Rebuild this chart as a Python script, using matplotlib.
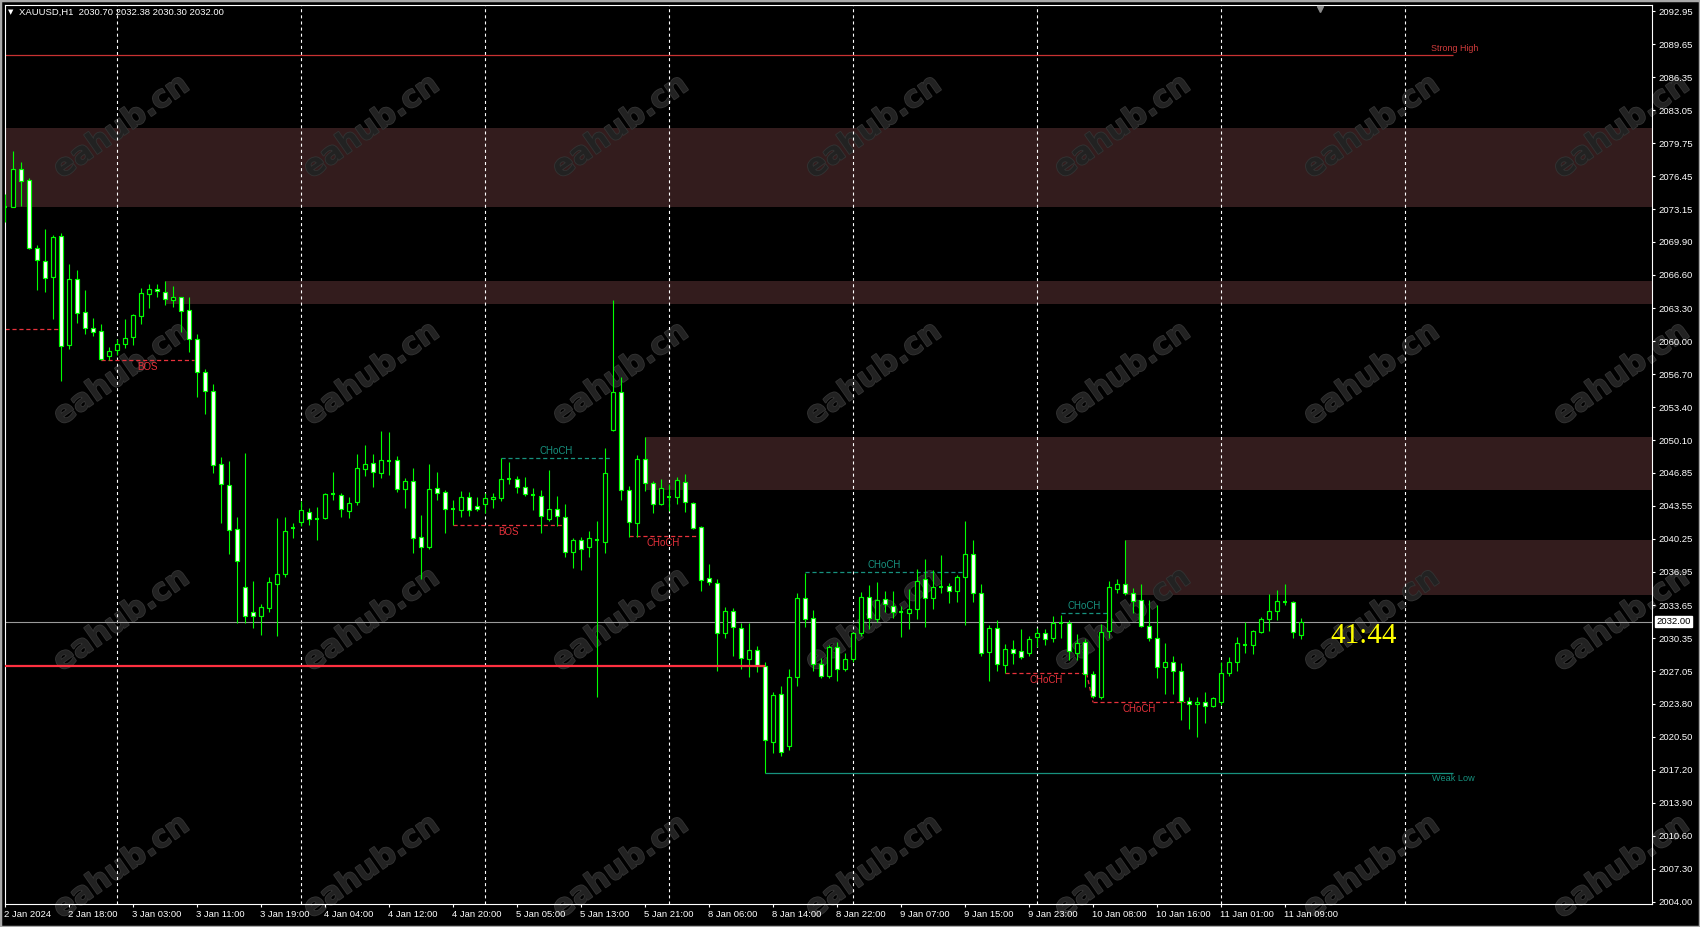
import matplotlib
matplotlib.use("Agg")
import matplotlib.pyplot as plt
from matplotlib.patches import Rectangle
import matplotlib.transforms as mtransforms
import matplotlib.patheffects as pe
import numpy as np

plt.rcParams['font.family'] = ['Liberation Sans', 'DejaVu Sans']
plt.rcParams['lines.scale_dashes'] = False

# ---------------- data ----------------
title_text = "XAUUSD,H1  2030.70 2032.38 2030.30 2032.00"

opens = [2073.4, 2073.4, 2077.15, 2076.1, 2069.26, 2067.96, 2066.36, 2070.46, 2059.57, 2066.16,
         2062.87, 2061.27, 2060.97, 2058.54, 2059.11, 2059.74, 2060.37, 2062.54, 2064.73, 2065.17,
         2064.87, 2064.13, 2064.37, 2063.07, 2060.17, 2056.88, 2054.98, 2047.69, 2045.59, 2041.2,
         2035.41, 2032.92, 2032.58, 2033.38, 2035.71, 2036.71, 2041.37, 2041.97, 2042.97, 2042.27,
         2042.3, 2044.73, 2044.6, 2043.07, 2043.9, 2047.26, 2047.82, 2046.86, 2048.06, 2048.09,
         2045.2, 2046.06, 2040.41, 2039.47, 2045.3, 2044.9, 2043.2, 2043.17, 2044.4, 2043.5,
         2043.77, 2044.2, 2044.37, 2046.26, 2046.26, 2045.4, 2044.67, 2044.5, 2042.27, 2043.2,
         2042.4, 2038.91, 2040.11, 2039.41, 2040.14, 2039.97, 2051.16, 2054.88, 2045.1, 2041.87,
         2048.2, 2045.8, 2043.7, 2044.4, 2044.4, 2045.9, 2043.8, 2041.41, 2036.32, 2035.82,
         2030.82, 2033.02, 2031.32, 2028.23, 2029.13, 2027.6, 2020.0, 2024.73, 2019.6, 2026.43,
         2034.31, 2032.32, 2027.73, 2026.59, 2029.42, 2027.29, 2028.23, 2030.82, 2034.41, 2032.28,
         2034.21, 2033.52, 2032.92, 2032.82, 2033.22, 2036.21, 2034.31, 2035.48, 2035.51, 2035.0,
         2036.48, 2038.75, 2034.82, 2028.93, 2031.33, 2027.67, 2029.23, 2029.03, 2028.83, 2030.5,
         2030.83, 2030.33, 2031.86, 2031.83, 2028.9, 2029.99, 2026.73, 2024.5, 2031.09, 2035.29,
         2035.72, 2034.82, 2034.12, 2031.59, 2030.33, 2027.43, 2027.99, 2027.1, 2024.1, 2023.74,
         2024.0, 2023.6, 2024.0, 2026.9, 2027.93, 2029.66, 2029.7, 2030.99, 2032.26, 2033.02,
         2033.99, 2033.92, 2030.70]
highs = [2074.7, 2079.0, 2077.9, 2076.25, 2069.6, 2071.2, 2070.56, 2070.76, 2067.69, 2067.1,
         2065.1, 2062.3, 2061.7, 2059.37, 2060.2, 2062.17, 2062.7, 2065.27, 2065.7, 2065.7,
         2065.97, 2065.5, 2064.43, 2064.37, 2060.67, 2057.21, 2055.71, 2048.42, 2048.02, 2042.43,
         2048.82, 2036.04, 2033.75, 2036.44, 2042.33, 2042.43, 2041.83, 2044.03, 2043.3, 2043.43,
         2044.8, 2046.93, 2044.8, 2044.4, 2048.72, 2049.62, 2048.72, 2050.98, 2050.89, 2048.52,
         2046.3, 2047.29, 2042.64, 2047.73, 2046.93, 2045.13, 2044.13, 2045.03, 2044.9, 2044.47,
         2044.8, 2044.8, 2048.29, 2047.89, 2046.53, 2046.4, 2045.3, 2045.1, 2047.13, 2044.53,
         2043.73, 2040.34, 2040.47, 2041.04, 2042.04, 2049.33, 2064.1, 2056.38, 2045.53, 2048.63,
         2050.42, 2046.03, 2046.23, 2045.73, 2046.43, 2046.73, 2043.97, 2041.54, 2037.75, 2036.22,
         2033.42, 2033.32, 2031.82, 2031.82, 2029.56, 2027.93, 2024.97, 2025.55, 2027.26, 2034.88,
         2036.88, 2033.15, 2028.32, 2029.66, 2029.92, 2028.82, 2031.0, 2034.91, 2035.61, 2035.91,
         2035.01, 2035.01, 2033.55, 2035.25, 2037.24, 2038.21, 2037.14, 2038.64, 2035.81, 2036.65,
         2042.04, 2040.14, 2035.75, 2031.66, 2032.16, 2029.76, 2030.16, 2031.26, 2030.56, 2031.33,
         2031.26, 2032.56, 2032.66, 2032.16, 2030.73, 2030.26, 2027.07, 2031.76, 2036.05, 2036.22,
         2040.14, 2035.32, 2035.75, 2034.15, 2033.65, 2029.83, 2028.56, 2027.83, 2024.5, 2024.5,
         2025.0, 2024.5, 2028.0, 2028.5, 2030.43, 2031.99, 2031.16, 2032.42, 2034.75, 2035.15,
         2035.75, 2034.09, 2032.38]
lows = [2071.9, 2073.35, 2073.5, 2069.2, 2065.1, 2064.93, 2062.2, 2056.05, 2059.24, 2061.84,
        2060.67, 2060.5, 2058.11, 2058.11, 2058.6, 2059.34, 2059.6, 2061.67, 2063.34, 2064.43,
        2063.6, 2063.43, 2060.9, 2058.94, 2054.45, 2052.68, 2046.79, 2041.87, 2038.77, 2031.88,
        2031.88, 2031.38, 2030.68, 2032.98, 2030.58, 2036.48, 2040.37, 2041.5, 2041.63, 2040.17,
        2042.23, 2044.16, 2042.47, 2042.37, 2043.63, 2046.53, 2045.46, 2046.36, 2046.6, 2044.93,
        2043.33, 2038.87, 2036.28, 2039.21, 2044.17, 2040.87, 2041.6, 2042.47, 2042.57, 2043.0,
        2042.87, 2043.37, 2044.03, 2045.76, 2044.87, 2044.53, 2043.13, 2040.87, 2042.07, 2041.54,
        2038.48, 2037.38, 2037.18, 2038.48, 2024.5, 2038.81, 2051.0, 2044.14, 2040.47, 2040.47,
        2045.07, 2042.87, 2043.6, 2043.07, 2043.77, 2042.97, 2041.24, 2035.08, 2035.68, 2027.1,
        2030.39, 2028.6, 2027.26, 2026.5, 2027.0, 2016.88, 2018.84, 2018.6, 2019.2, 2025.6,
        2031.49, 2027.09, 2026.39, 2026.4, 2026.1, 2027.09, 2028.0, 2030.6, 2031.22, 2032.0,
        2032.98, 2032.32, 2030.42, 2031.22, 2032.22, 2031.42, 2033.22, 2034.81, 2033.82, 2033.99,
        2031.66, 2033.99, 2028.6, 2026.1, 2027.07, 2026.83, 2027.73, 2028.26, 2028.6, 2029.5,
        2029.66, 2029.99, 2030.4, 2028.17, 2028.17, 2025.5, 2024.4, 2024.27, 2030.33, 2034.82,
        2034.65, 2032.82, 2031.42, 2030.09, 2026.4, 2024.77, 2024.77, 2022.17, 2021.27, 2020.5,
        2021.9, 2023.43, 2023.7, 2026.6, 2027.07, 2028.9, 2028.76, 2030.9, 2031.09, 2032.16,
        2033.65, 2030.39, 2030.30]
closes = [2073.4, 2077.15, 2076.0, 2069.26, 2068.06, 2066.26, 2070.39, 2059.47, 2066.16, 2062.77,
          2061.27, 2060.94, 2058.24, 2058.97, 2059.67, 2060.3, 2062.57, 2064.77, 2065.17, 2064.97,
          2064.17, 2064.37, 2063.03, 2060.17, 2056.88, 2054.98, 2047.59, 2045.69, 2041.1, 2038.0,
          2032.58, 2032.52, 2033.42, 2035.91, 2036.71, 2041.0, 2041.37, 2043.1, 2042.2, 2042.27,
          2044.7, 2044.73, 2043.2, 2043.8, 2047.29, 2047.69, 2046.93, 2048.09, 2048.06, 2045.2,
          2046.0, 2040.3, 2039.41, 2045.2, 2044.8, 2043.27, 2043.2, 2044.4, 2043.1, 2043.27,
          2044.3, 2044.4, 2046.2, 2046.26, 2045.4, 2044.7, 2044.67, 2042.5, 2043.2, 2042.5,
          2038.91, 2040.14, 2039.27, 2040.31, 2040.14, 2046.8, 2054.88, 2045.1, 2041.97, 2048.2,
          2045.8, 2043.7, 2045.3, 2044.4, 2046.1, 2043.9, 2041.37, 2036.12, 2035.92, 2030.82,
          2033.02, 2031.49, 2028.33, 2029.13, 2027.6, 2020.14, 2024.63, 2019.0, 2026.43, 2034.31,
          2032.22, 2027.73, 2026.59, 2029.42, 2027.23, 2028.23, 2030.82, 2034.41, 2032.32, 2034.11,
          2033.71, 2032.92, 2032.92, 2033.22, 2036.01, 2034.31, 2035.41, 2035.48, 2035.01, 2036.42,
          2038.75, 2034.82, 2028.83, 2031.33, 2027.73, 2029.23, 2028.9, 2028.43, 2030.26, 2030.83,
          2030.23, 2031.83, 2031.86, 2029.06, 2029.83, 2026.73, 2024.6, 2030.99, 2035.42, 2035.72,
          2034.82, 2034.09, 2031.59, 2030.33, 2027.43, 2027.93, 2027.03, 2024.1, 2023.74, 2024.0,
          2023.6, 2024.33, 2026.83, 2027.93, 2029.83, 2029.66, 2031.02, 2032.22, 2033.02, 2034.02,
          2033.99, 2030.92, 2032.00]

price_ticks = [2092.95, 2089.65, 2086.35, 2083.05, 2079.75, 2076.45, 2073.15, 2069.90, 2066.60,
               2063.30, 2060.00, 2056.70, 2053.40, 2050.10, 2046.85, 2043.55, 2040.25, 2036.95,
               2033.65, 2030.35, 2027.05, 2023.80, 2020.50, 2017.20, 2013.90, 2010.60, 2007.30,
               2004.00]
time_labels = ["2 Jan 2024", "2 Jan 18:00", "3 Jan 03:00", "3 Jan 11:00", "3 Jan 19:00",
               "4 Jan 04:00", "4 Jan 12:00", "4 Jan 20:00", "5 Jan 05:00", "5 Jan 13:00",
               "5 Jan 21:00", "8 Jan 06:00", "8 Jan 14:00", "8 Jan 22:00", "9 Jan 07:00",
               "9 Jan 15:00", "9 Jan 23:00", "10 Jan 08:00", "10 Jan 16:00", "11 Jan 01:00",
               "11 Jan 09:00"]
bars_per_label = 8
grid_bars = [14, 37, 60, 83, 106, 129, 152, 175]

# supply / demand zones
zone_tops = [2081.27, 2066.00, 2050.42, 2040.14]
zone_bottoms = [2073.42, 2063.73, 2045.13, 2034.65]
zone_starts = [0, 20, 80, 140]

# market structure marks
struct_text = ["BOS", "CHoCH", "BOS", "CHoCH", "CHoCH", "CHoCH", "CHoCH", "CHoCH"]
struct_price = [2058.11, 2048.29, 2041.60, 2040.51, 2036.91, 2032.82, 2026.83, 2023.94]
struct_start = [12, 62, 56, 78, 100, 132, 125, 136]
struct_end = [23.6, 75.8, 69.8, 86.6, 119.8, 137.7, 135.2, 147.5]
struct_bull = [False, True, False, False, True, True, False, False]

early_level = 2061.17
early_level_end = 7
strong_high = 2088.56
weak_low = 2016.88
weak_low_start = 95
level_end = 181
red_level = 2027.56
red_level_end = 95
current_price = 2032.00
timer_text = "41:44"

# ---------------- style ----------------
LIME = "#00ff00"
ZONE = "#331c1d"
RED = "#e8323c"
TEAL = "#17917f"
DASH = (0, (3, 2))

W, H = 1700, 927
fig = plt.figure(figsize=(W / 100, H / 100), dpi=100, facecolor="black")
L_px, R_px, T_px, B_px = 5, 1652, 5, 904
ax = fig.add_axes([L_px / W, (H - B_px) / H, (R_px - L_px) / W, (B_px - T_px) / H])
ax.set_facecolor("black")
px_per_bar = 8.0
xmax = (R_px - L_px) / px_per_bar
ax.set_xlim(0, xmax)
ax.set_ylim(2003.80, 2093.55)

# zones
for t, b, s in zip(zone_tops, zone_bottoms, zone_starts):
    ax.add_patch(Rectangle((s, b), xmax - s + 1, t - b, facecolor=ZONE, edgecolor="none", zorder=1))

# vertical dashed grid
for g in grid_bars:
    ax.axvline(g, color="white", lw=0.8, linestyle=(0, (2.2, 2.2)), zorder=1.6)

# watermarks (below axis labels)
wm_cols = [121, 371, 620, 873, 1122, 1371, 1621]
wm_rows = [127, 374, 620, 867]
for yy in wm_rows:
    for xx in wm_cols:
        ax.text(xx / W, 1 - yy / H, "eahub.cn", transform=fig.transFigure, rotation=35,
                ha="center", va="center", fontsize=22, fontweight="bold",
                family="DejaVu Sans", color="#222222", zorder=1.2, clip_on=False,
                path_effects=[pe.withStroke(linewidth=1.2, foreground="#343434")])

# horizontal levels
ax.axhline(current_price, color="#9a9a9a", lw=0.8, zorder=2)
ax.hlines(strong_high, 0, level_end, color="#c83232", lw=0.9, zorder=2)
ax.hlines(weak_low, weak_low_start, level_end, color=TEAL, lw=0.9, zorder=2)
ax.hlines(red_level, 0, red_level_end, color="#ff3040", lw=1.6, zorder=5)
ax.hlines(early_level, 0, early_level_end, color=RED, lw=0.9, linestyle=DASH, zorder=2)

ax.text(level_end - 2.8, strong_high + 0.15, "Strong High", color="#d23c3c", fontsize=6.4,
        ha="left", va="bottom", zorder=6)
ax.text(level_end - 2.6, weak_low - 0.15, "Weak Low", color=TEAL, fontsize=6.6,
        ha="left", va="top", zorder=6)

# structure lines
for txt, p, s, e, bull in zip(struct_text, struct_price, struct_start, struct_end, struct_bull):
    col = TEAL if bull else RED
    ax.hlines(p, s, e, color=col, lw=0.9, linestyle=DASH, zorder=2.5)
    ax.text((s + e) / 2, p + (0.2 if bull else -0.2), txt, color=col, fontsize=7,
            ha="center", va="bottom" if bull else "top", zorder=6)
ax.plot([struct_end[6], struct_start[7]], [struct_price[6], struct_price[7]],
        color=RED, lw=0.9, linestyle=DASH, zorder=2.5)

# candles
o = np.array(opens); h = np.array(highs); l = np.array(lows); c = np.array(closes)
x = np.arange(len(o))
ax.vlines(x, l, h, color=LIME, lw=0.8, zorder=3)
is_doji = np.isclose(o, c)
lo = np.minimum(o, c)
ht = np.abs(c - o)
fills = np.array(["white" if cc < oo else "black" for oo, cc in zip(o, c)])
nd = ~is_doji
ax.bar(x[nd], ht[nd], bottom=lo[nd], width=0.5, color=list(fills[nd]),
       edgecolor=LIME, linewidth=0.85, zorder=4)
ax.hlines(o[is_doji], x[is_doji] - 0.3, x[is_doji] + 0.3, color=LIME, lw=1.5, zorder=4)

# timer
ax.text(165.7, 2030.6, timer_text, color="#ffff00", fontsize=21, family="Liberation Serif",
        ha="left", va="center", zorder=6)

# shift marker
ax.plot([164.4], [2093.2], marker="v", color="#8c8c8c", markersize=5, clip_on=False, zorder=6)

# axes styling
for sp in ax.spines.values():
    sp.set_color("white")
    sp.set_linewidth(0.8)
ax.yaxis.tick_right()
ax.set_yticks(price_ticks)
ax.set_yticklabels([f"{v:.2f}" for v in price_ticks])
ax.set_xticks(np.arange(len(time_labels)) * bars_per_label)
ax.set_xticklabels(time_labels, ha="left")
ax.tick_params(axis="both", colors="white", labelcolor="white", labelsize=6.8,
               length=2.5, width=0.8, direction="out")
ax.tick_params(axis="y", pad=2)
ax.tick_params(axis="x", pad=2)
for lab in ax.get_xticklabels():
    lab.set_transform(lab.get_transform() + mtransforms.ScaledTranslation(-1 / 100, 0, fig.dpi_scale_trans))

# current price label
trans = mtransforms.blended_transform_factory(ax.transAxes, ax.transData)
ax.text(1.0026, current_price, f"{current_price:.2f}", transform=trans, color="black",
        fontsize=6.8, ha="left", va="center", zorder=7, clip_on=False,
        bbox=dict(boxstyle="square,pad=0.15", facecolor="white", edgecolor="white"))

# header
fig.text(11 / W, 1 - 12 / H, "\u25BC", color="white", fontsize=5, ha="center", va="center",
         family="DejaVu Sans")
fig.text(19 / W, 1 - 12 / H, title_text, color="white", fontsize=6.8, ha="left", va="center")

# window frame
fig.patches.append(Rectangle((0, 0), 1, 1, transform=fig.transFigure, fill=False,
                             edgecolor="#a8a8a8", lw=2.5))

fig.savefig("out.png", dpi=100, facecolor="black")
